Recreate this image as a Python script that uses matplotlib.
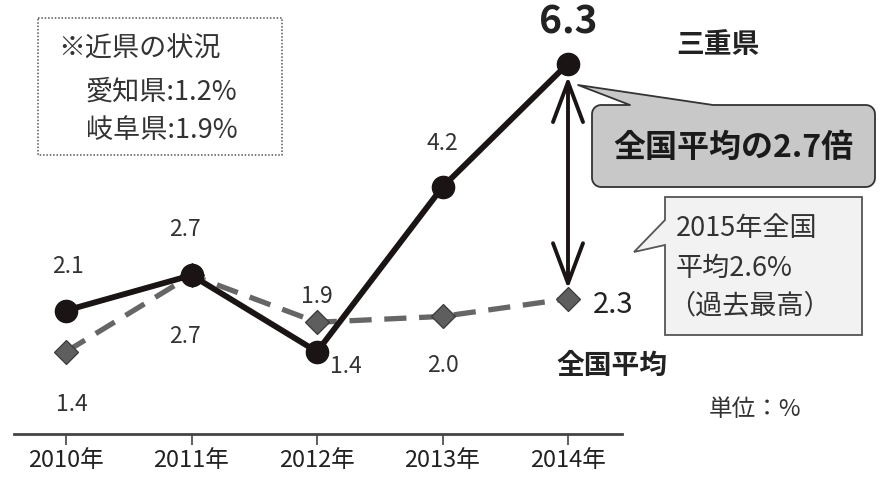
import matplotlib
matplotlib.use("Agg")
import matplotlib.pyplot as plt
from matplotlib.patches import Polygon, Rectangle
from matplotlib.transforms import Affine2D
import math

plt.rcParams['font.family'] = ['Noto Sans CJK JP', 'DejaVu Sans']

years = [2010, 2011, 2012, 2013, 2014]
year_labels = ["2010年", "2011年", "2012年", "2013年", "2014年"]
mie = [2.1, 2.7, 1.4, 4.2, 6.3]
national = [1.4, 2.7, 1.9, 2.0, 2.3]

# label offsets in pixels (dx, dy; dy positive = down)
mie_off = [(2, -44), (-7, -46), (29, 15), (0, -44), (0, -42)]
nat_off = [(6, 53), (-7, 61), (0, -26), (0, 49), (45, 6)]

W, H = 881, 479
fig = plt.figure(figsize=(W / 100, H / 100), dpi=100)
ax = fig.add_axes([0, 0, 1, 1])
ax.set_xlim(2010 - 66 / 125.5, 2010 + (W - 66) / 125.5)
ax.set_ylim(-(H - 434) / 58.8, 434 / 58.8)

# pixel coordinates (y down) -> figure
px = Affine2D().scale(1 / W, -1 / H).translate(0, 1) + fig.transFigure

for s in ["top", "left", "right"]:
    ax.spines[s].set_visible(False)
ax.spines["bottom"].set_position(("data", 0))
ax.spines["bottom"].set_bounds(2010 - 52 / 125.5, 2014 + 54 / 125.5)
ax.spines["bottom"].set_linewidth(2)
ax.spines["bottom"].set_color("#444444")
ax.set_yticks([])
ax.set_xticks(years)
ax.set_xticklabels(year_labels, fontsize=17, color="#222222")
ax.tick_params(axis="x", direction="out", length=8, width=1.2,
               color="#444444", pad=3)

# lines
ax.plot(years, national, color="#666666", lw=3.8, ls=(0, (4.2, 2.4)),
        marker="D", markersize=12.5, markerfacecolor="#5e5e5e",
        markeredgecolor="#3a3a3a", markeredgewidth=0.9, zorder=3)
ax.plot(years, mie, color="#1a1414", lw=4.2, marker="o", markersize=16,
        markerfacecolor="#1a1414", markeredgecolor="#1a1414", zorder=4)

for i, (x, y) in enumerate(zip(years, mie)):
    dx, dy = mie_off[i]
    big = i == len(years) - 1
    ax.annotate(f"{y:.1f}", (x, y), xytext=(dx * 0.72, -dy * 0.72),
                textcoords="offset points", ha="center", va="center",
                fontsize=28 if big else 16.5,
                fontweight="bold" if big else "normal",
                color="#222222" if big else "#333333")
for i, (x, y) in enumerate(zip(years, national)):
    dx, dy = nat_off[i]
    last = i == len(years) - 1
    ax.annotate(f"{y:.1f}", (x, y), xytext=(dx * 0.72, -dy * 0.72),
                textcoords="offset points", ha="center", va="center",
                fontsize=21 if last else 16.5,
                color="#222222" if last else "#333333")

# double arrow
ax.annotate("", xy=(2014, 6.08), xytext=(2014, 2.47),
            arrowprops=dict(arrowstyle="<->,head_length=1.6,head_width=0.6",
                            mutation_scale=18, lw=2.8, color="#1a1414",
                            shrinkA=0, shrinkB=0), zorder=2)

# series labels
fig.text(718 / W, 1 - 45 / H, "三重県", fontsize=20, fontweight="bold",
         ha="center", va="center", color="#222222")
fig.text(612 / W, 1 - 366 / H, "全国平均", fontsize=20, fontweight="bold",
         ha="center", va="center", color="#222222")
fig.text(755 / W, 1 - 409 / H, "単位：%", fontsize=17, ha="center",
         va="center", color="#333333")

# note box
fig.patches.append(Rectangle((38, 18), 244, 137, transform=px, fill=False,
                             ls=(0, (1, 1.2)), lw=1.1, ec="#555555"))
fig.text(58 / W, 1 - 49 / H, "※近県の状況", fontsize=19.5, va="center",
         color="#333333")
fig.text(86 / W, 1 - 92 / H, "愛知県:1.2%", fontsize=19.5, va="center",
         color="#333333")
fig.text(86 / W, 1 - 130 / H, "岐阜県:1.9%", fontsize=19.5, va="center",
         color="#333333")


def rounded(x0, y0, x1, y1, r, n=6):
    pts = []
    corners = [(x1 - r, y0 + r, -90, 0), (x1 - r, y1 - r, 0, 90),
               (x0 + r, y1 - r, 90, 180), (x0 + r, y0 + r, 180, 270)]
    for cx, cy, a0, a1 in corners:
        for k in range(n + 1):
            a = math.radians(a0 + (a1 - a0) * k / n)
            pts.append((cx + r * math.cos(a), cy + r * math.sin(a)))
    return pts


# callout 1 (pointer on top edge)
box1 = rounded(592, 105, 875, 187, 9)
call1 = [(713, 105)] + box1 + [(630, 105), (578, 85)]
fig.patches.append(Polygon(call1, closed=True, transform=px, fc="#c8c8c8",
                           ec="#333333", lw=1.3, joinstyle="round"))
fig.text(733 / W, 1 - 148 / H, "全国平均の2.7倍", fontsize=23,
         fontweight="bold", ha="center", va="center", color="#1a1a1a")

# callout 2 (pointer on left edge)
call2 = [(665, 197), (862, 197), (862, 335), (665, 335), (665, 245),
         (634, 252), (665, 220)]
fig.patches.append(Polygon(call2, closed=True, transform=px, fc="#f2f2f2",
                           ec="#555555", lw=1.3))
fig.text(676 / W, 1 - 229 / H, "2015年全国", fontsize=19.5, va="center",
         color="#333333")
fig.text(676 / W, 1 - 268 / H, "平均2.6%", fontsize=19.5, va="center",
         color="#333333")
fig.text(668 / W, 1 - 306 / H, "（過去最高）", fontsize=19.5, va="center",
         color="#333333")

fig.savefig("out.png", dpi=100)
